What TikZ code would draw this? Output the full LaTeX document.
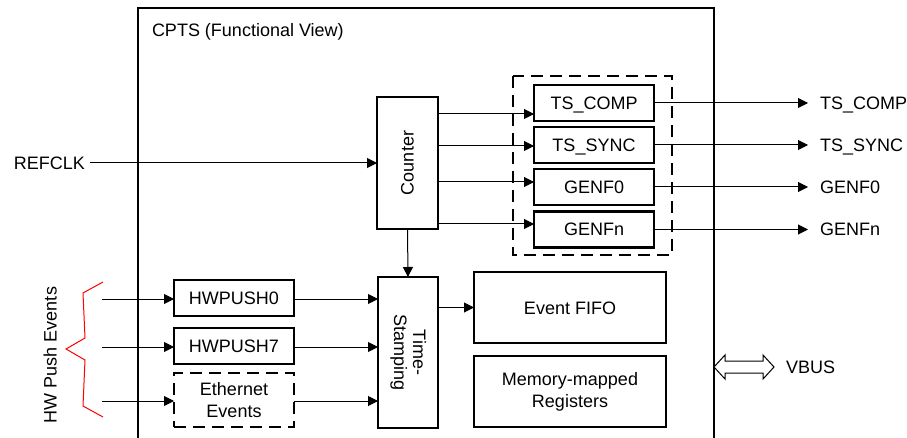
\documentclass[tikz,border=0pt]{standalone}
\usepackage{fontspec}
\setmainfont{Liberation Sans}
\usepackage{graphicx}
\usetikzlibrary{arrows.meta,calc}
\begin{document}
\begin{tikzpicture}[x=1pt,y=-1pt,
  every node/.style={font=\fontsize{18}{22}\selectfont, inner sep=0pt, outer sep=0pt},
  blk/.style={draw, line width=2.4pt, text height=13pt, text depth=0pt},
  blkm/.style={draw, line width=2.4pt, align=center},
  dblk/.style={draw, line width=2.4pt, dash pattern=on 12pt off 7pt, align=center},
  lbl/.style={text height=13pt, text depth=0pt},
  arr/.style={line width=1pt, -{Triangle[length=10pt,width=10pt]}},
  frame/.style={line width=2.2pt}
]
\useasboundingbox (0,0) rectangle (907,438);

% frame
\draw[frame] (138,440) -- (138,8) -- (714,8) -- (714,440);
\node[lbl, anchor=west] (title) at (152,30) {CPTS (Functional View)};

% counter and REFCLK
\node[blkm, minimum width=61pt, minimum height=132pt] (cnt) at (407.5,163) {\rotatebox{90}{Counter}};
\node[lbl, anchor=east] (refclk) at (85,163) {REFCLK};
\draw[arr] ([xshift=5pt]refclk.east) -- (cnt.west);

% dashed group
\draw[line width=2.4pt, dash pattern=on 12pt off 7pt] (513,76) rectangle (672,255);

% generator boxes
\node[blk, minimum width=120pt, minimum height=36pt] (tscomp) at (594,103) {TS\_COMP};
\node[blk, minimum width=120pt, minimum height=36pt] (tssync) at (594,145) {TS\_SYNC};
\node[blk, minimum width=120pt, minimum height=36pt] (genf0) at (594,187) {GENF0};
\node[blk, minimum width=120pt, minimum height=36pt] (genfn) at (594,229.5) {GENFn};

\coordinate (a1) at ([yshift=-11pt]tscomp.west);
\coordinate (a2) at ([yshift=-1pt]tssync.west);
\coordinate (a3) at ([yshift=5pt]genf0.west);
\coordinate (a4) at ([yshift=5.5pt]genfn.west);
\draw[arr] (cnt.east |- a1) -- (a1);
\draw[arr] (cnt.east |- a2) -- (a2);
\draw[arr] (cnt.east |- a3) -- (a3);
\draw[arr] (cnt.east |- a4) -- (a4);

% outputs
\node[lbl, anchor=west] (otscomp) at (820,103) {TS\_COMP};
\node[lbl, anchor=west] (otssync) at (820,145) {TS\_SYNC};
\node[lbl, anchor=west] (ogenf0) at (820,187) {GENF0};
\node[lbl, anchor=west] (ogenfn) at (820,229.5) {GENFn};
\draw[arr] (tscomp.east) -- ([xshift=-12pt]otscomp.west);
\draw[arr] (tssync.east) -- ([xshift=-12pt]otssync.west);
\draw[arr] (genf0.east) -- ([xshift=-12pt]ogenf0.west);
\draw[arr] (genfn.east) -- ([xshift=-12pt]ogenfn.west);

% time stamping
\node[blkm, minimum width=60pt, minimum height=151pt] (ts) at (408,352.5)
  {\rotatebox{-90}{\begin{tabular}{@{}c@{}}Time-\\[-3pt]Stamping\end{tabular}}};
\draw[arr] (cnt.south) -- (ts.north);

% FIFO and registers
\node[blk, minimum width=192pt, minimum height=71pt] (fifo) at (570,307.5) {Event FIFO};
\node[blkm, minimum width=192pt, minimum height=71pt] (regs) at (570,391.5) {Memory-mapped\\Registers};
\draw[arr] (ts.east |- fifo.west) -- (fifo.west);

% HW push inputs
\node[blk, minimum width=120pt, minimum height=36pt] (hw0) at (234,298) {HWPUSH0};
\node[blk, minimum width=120pt, minimum height=36pt] (hw7) at (234,346) {HWPUSH7};
\node[dblk, minimum width=120pt, minimum height=54pt] (eth) at (234,400) {Ethernet\\Events};
\coordinate (in0) at (102,299);
\coordinate (in7) at (102,347);
\coordinate (ine) at (102,401);
\draw[arr] (in0) -- (hw0.west |- in0);
\draw[arr] (in7) -- (hw7.west |- in7);
\draw[arr] (ine) -- (eth.west |- ine);
\draw[arr] (hw0.east |- in0) -- (ts.west |- in0);
\draw[arr] (hw7.east |- in7) -- (ts.west |- in7);
\draw[arr] (eth.east |- ine) -- (ts.west |- ine);

% brace
\draw[red, line width=1pt] (103,282) -- (83,293) -- (85,338) -- (66,349) -- (85,360) -- (83,406) -- (103,417);
\node[rotate=90, lbl] (hwpe) at (50,355) {HW Push Events};

% VBUS
\draw[line width=1pt, fill=white] (714,367) -- (725,355) -- (725,361) -- (763,361) -- (763,355)
  -- (774,367) -- (763,379) -- (763,373) -- (725,373) -- (725,379) -- cycle;
\node[lbl, anchor=west] (vbus) at (786,367) {VBUS};
\end{tikzpicture}
\end{document}
